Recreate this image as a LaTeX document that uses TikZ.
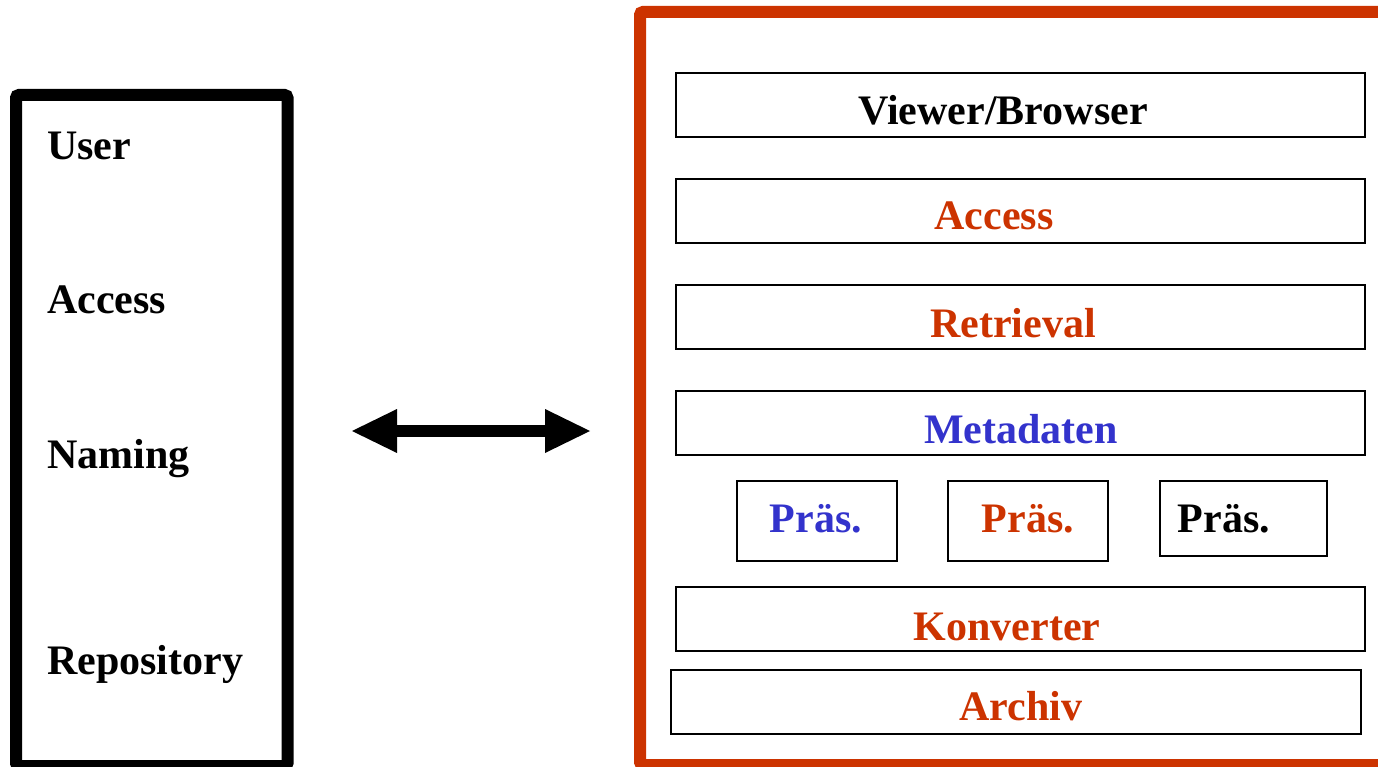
\documentclass[tikz,border=0pt]{standalone}
\usepackage{fontspec}
\setmainfont{Liberation Serif}
\usetikzlibrary{arrows.meta}
\definecolor{rust}{HTML}{CC3300}
\definecolor{indigo}{HTML}{3333CC}
\tikzset{
  frame/.style={line width=12pt, rounded corners=3pt},
  layer/.style={draw, line width=2pt, inner sep=0pt, minimum width=689pt, minimum height=64pt},
  pbox/.style={draw, line width=2pt, inner sep=0pt, minimum height=80pt},
  txt/.style={font=\fontsize{42}{50}\selectfont\bfseries, inner sep=0pt, anchor=base},
  lefttxt/.style={txt, anchor=base west},
}
\begin{document}
\begin{tikzpicture}[x=1pt, y=-1pt]
\useasboundingbox (0,0) rectangle (1378,767);

% left column: the generic layers
\draw[frame] (16,95) rectangle (287.5,766);
\node[lefttxt] (user) at (47,160) {User};
\node[lefttxt] (acc) at (47,313) {Access};
\node[lefttxt] (nam) at (47,468) {Naming};
\node[lefttxt] (repo) at (47,674) {Repository};

% right column: concrete system layers
\draw[frame, draw=rust] (640,12) rectangle (1386,765);

\node[layer] (viewer) at (1020.5,105) {};
\node[txt] at (1003,125) {Viewer/Browser};

\node[layer] (access) at (1020.5,211) {};
\node[txt, text=rust] at (994,230) {Access};

\node[layer] (retr) at (1020.5,317) {};
\node[txt, text=rust] at (1013,337) {Retrieval};

\node[layer] (meta) at (1020.5,423) {};
\node[txt, text=indigo] at (1021,443) {Metadaten};

\node[pbox, minimum width=160pt] (p1) at (817,521) {};
\node[txt, text=indigo] at (816,532) {Präs.};
\node[pbox, minimum width=160pt] (p2) at (1028,521) {};
\node[txt, text=rust] at (1028,532) {Präs.};
\node[pbox, minimum width=167pt, minimum height=75pt] (p3) at (1243.5,518.5) {};
\node[txt] at (1224,532) {Präs.};

\node[layer] (konv) at (1020.5,619) {};
\node[txt, text=rust] at (1007,640) {Konverter};

\node[layer, minimum width=690pt] (arch) at (1016,702) {};
\node[txt, text=rust] at (1021,720) {Archiv};

% correspondence arrow
\coordinate (al) at (352,431);
\coordinate (ar) at (590,431);
\draw[line width=12pt,
  {Triangle[length=45pt, width=44pt, line width=0pt]}-{Triangle[length=45pt, width=44pt, line width=0pt]}]
  (al) -- (ar);
\end{tikzpicture}
\end{document}
